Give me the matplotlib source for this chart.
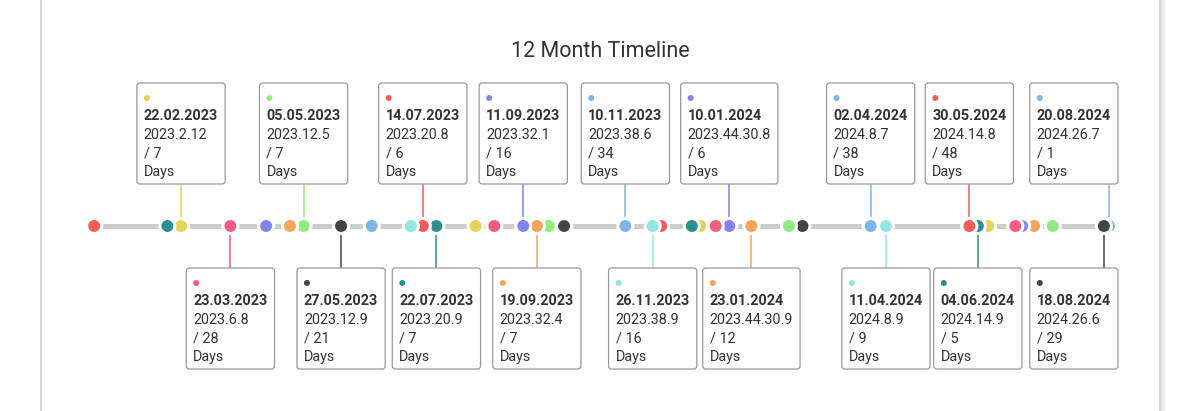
import matplotlib
matplotlib.use('Agg')
import matplotlib.pyplot as plt
import matplotlib.dates as mdates
from matplotlib.patches import FancyBboxPatch, Rectangle, Circle
from matplotlib.transforms import IdentityTransform
from datetime import datetime

plt.rcParams['font.family'] = ['Roboto', 'DejaVu Sans']

# ---------------- data ----------------
title = '12 Month Timeline'

palette = ['#f45b5b', '#2b908f', '#e4d354', '#f15c80', '#8085e9',
           '#f7a35c', '#90ed7d', '#434348', '#7cb5ec', '#91e8e1']

point_dates = [
    '2023-01-02', '2023-02-14', '2023-02-22', '2023-03-23', '2023-04-13',
    '2023-04-27', '2023-05-05', '2023-05-27', '2023-06-14', '2023-07-07',
    '2023-07-14', '2023-07-22', '2023-08-14', '2023-08-25', '2023-09-11',
    '2023-09-19', '2023-09-26', '2023-10-05', '2023-11-10', '2023-11-26',
    '2023-12-01', '2023-12-19', '2023-12-24', '2024-01-02', '2024-01-10',
    '2024-01-23', '2024-02-14', '2024-02-22', '2024-04-02', '2024-04-11',
    '2024-05-30', '2024-06-04', '2024-06-10', '2024-06-26', '2024-06-30',
    '2024-07-07', '2024-07-18', '2024-08-17', '2024-08-20', '2024-08-22',
]

label_dates = [
    '2023-02-22', '2023-03-23', '2023-05-05', '2023-05-27', '2023-07-14',
    '2023-07-22', '2023-09-11', '2023-09-19', '2023-11-10', '2023-11-26',
    '2024-01-10', '2024-01-23', '2024-04-02', '2024-04-11', '2024-05-30',
    '2024-06-04', '2024-08-20', '2024-08-17',
]
label_titles = [
    '22.02.2023', '23.03.2023', '05.05.2023', '27.05.2023', '14.07.2023',
    '22.07.2023', '11.09.2023', '19.09.2023', '10.11.2023', '26.11.2023',
    '10.01.2024', '23.01.2024', '02.04.2024', '11.04.2024', '30.05.2024',
    '04.06.2024', '20.08.2024', '18.08.2024',
]
label_codes = [
    '2023.2.12', '2023.6.8', '2023.12.5', '2023.12.9', '2023.20.8',
    '2023.20.9', '2023.32.1', '2023.32.4', '2023.38.6', '2023.38.9',
    '2023.44.30.8', '2023.44.30.9', '2024.8.7', '2024.8.9', '2024.14.8',
    '2024.14.9', '2024.26.7', '2024.26.6',
]
label_counts = [7, 28, 7, 21, 6, 7, 16, 7, 34, 16, 6, 12, 38, 9, 48, 5, 1, 29]
label_side = ['top', 'bottom'] * 9
label_unit = 'Days'

# ---------------- layout ----------------
W, H = 1200, 411
fig = plt.figure(figsize=(W / 100, H / 100), dpi=100)
fig.patch.set_facecolor('white')
ax = fig.add_axes([0, 0, 1, 1])
ax.axis('off')

dnum = [mdates.date2num(datetime.strptime(d, '%Y-%m-%d')) for d in point_dates]
a0 = mdates.date2num(datetime(2023, 2, 22))
a1 = mdates.date2num(datetime(2024, 8, 20))
ppd = (1109 - 181) / (a1 - a0)
xmin = a0 - 181 / ppd
ax.set_xlim(xmin, xmin + W / ppd)
ax.set_ylim(226 - H, 226)

ident = IdentityTransform()

# card
card = Rectangle((41, -10), 1119, H + 20, transform=ident, facecolor='white',
                 edgecolor='#d3d3d3', lw=1.3, zorder=0, clip_on=False)
ax.add_artist(card)
for i, c in enumerate(['#e2e2e2', '#eaeaea', '#f0f0f0', '#f5f5f5', '#f9f9f9']):
    ax.add_artist(Rectangle((1161 + i, -10), 1, H + 20, transform=ident,
                            facecolor=c, edgecolor='none', zorder=0, clip_on=False))

# title
fig.text(0.5, (H - 57) / H, title, ha='center', va='baseline',
         fontsize=15.5, color='#333333')

# timeline base line
ax.plot([dnum[0], dnum[-1]], [0, 0], color='#cccccc', lw=3.6,
        solid_capstyle='butt', zorder=1)

colors = [palette[i % len(palette)] for i in range(len(dnum))]

# connectors
date_index = {d: i for i, d in enumerate(point_dates)}
for d, side in zip(label_dates, label_side):
    i = date_index[d]
    y1 = 42 if side == 'top' else -42
    ax.plot([dnum[i], dnum[i]], [0, y1], color=colors[i], lw=1.1, zorder=2)

# points (drawn right to left)
ax.scatter(dnum[::-1], [0] * len(dnum), s=117, c=colors[::-1],
           edgecolors='white', linewidths=2.2, zorder=3)

# label boxes
fig.canvas.draw()
renderer = fig.canvas.get_renderer()
fs = 10.4
for d, ttl, code, cnt, side in zip(label_dates, label_titles, label_codes,
                                    label_counts, label_side):
    i = date_index[d]
    cx = ax.transData.transform((dnum[i], 0))[0]
    top = 83 if side == 'top' else 268
    lines = [(ttl, 'bold'), (code, 'normal'), ('/ %d' % cnt, 'normal'),
             (label_unit, 'normal')]
    texts = []
    for k, (s, wgt) in enumerate(lines):
        t = ax.text(0, H - (top + 37 + 18.5 * k), s, transform=ident,
                    fontsize=fs, fontweight=wgt, color='#333333',
                    ha='left', va='baseline', zorder=6)
        texts.append(t)
    wmax = max(t.get_window_extent(renderer).width for t in texts)
    bw = wmax + 14
    left = cx - bw / 2
    left = min(left, 1118 - bw)
    for t in texts:
        t.set_x(left + 7)
    box = FancyBboxPatch((left, H - (top + 101)), bw, 101,
                         boxstyle='round,pad=0,rounding_size=3',
                         transform=ident, facecolor='white',
                         edgecolor='#999999', lw=0.9, zorder=5)
    ax.add_artist(box)
    ax.add_artist(Circle((left + 10, H - (top + 15)), 3.0, transform=ident,
                         facecolor=colors[i], edgecolor='none', zorder=6))

fig.savefig('out.png', dpi=100, facecolor='white')
